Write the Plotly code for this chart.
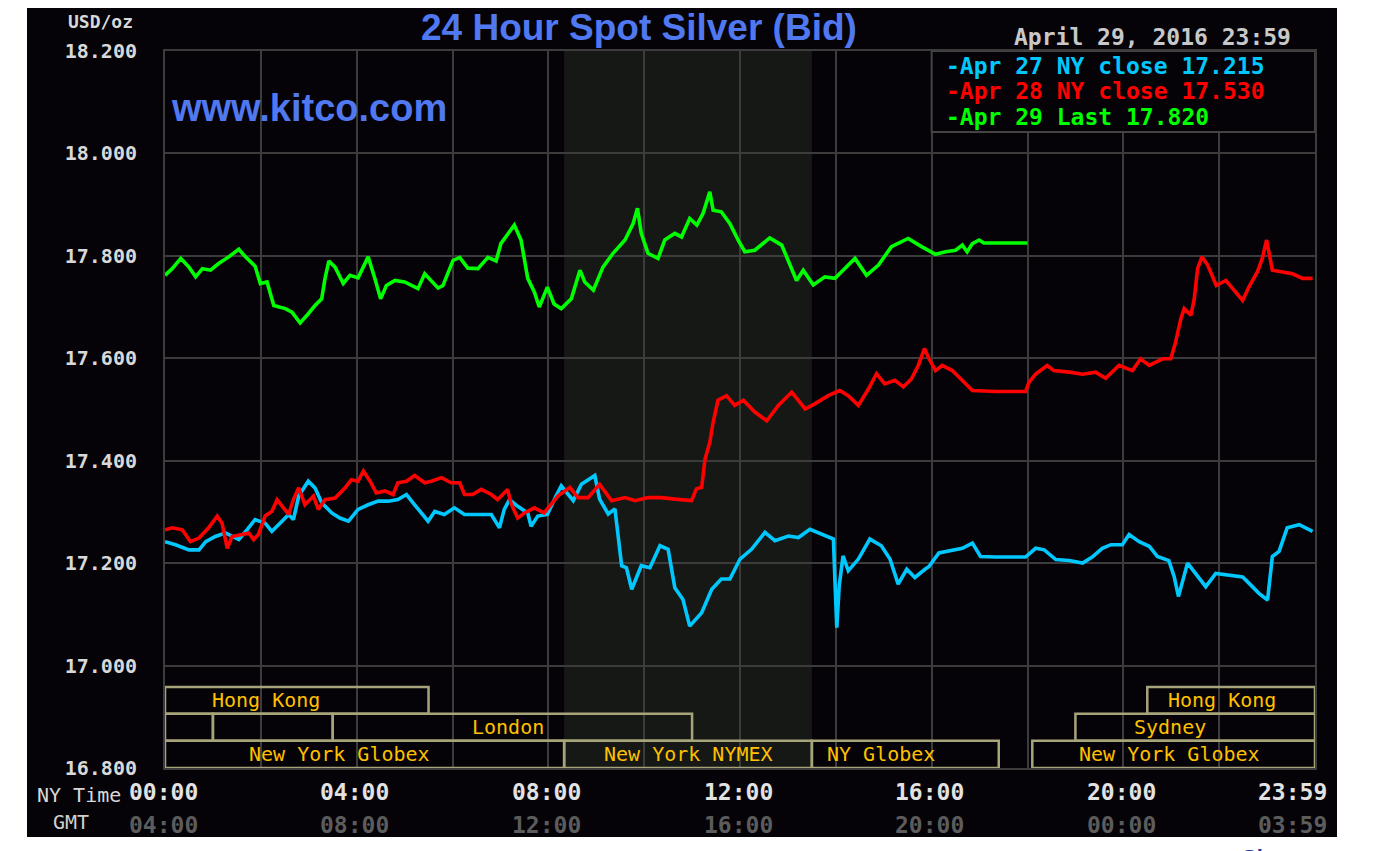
import plotly.graph_objects as go

# ---------------- data ----------------
apr27_hours = [0.00, 0.22, 0.50, 0.71, 0.85, 1.05, 1.26, 1.54, 1.71, 1.88, 2.09, 2.23, 2.40, 2.58, 2.68, 2.79,
               2.99, 3.13, 3.27, 3.48, 3.65, 3.83, 4.03, 4.24, 4.45, 4.66, 4.86, 5.04, 5.21, 5.35, 5.49, 5.63,
               5.83, 6.04, 6.25, 6.53, 6.81, 6.98, 7.08, 7.19, 7.36, 7.57, 7.64, 7.78, 7.98, 8.16, 8.27, 8.52,
               8.69, 8.97, 9.07, 9.25, 9.39, 9.53, 9.63, 9.74, 9.94, 10.12, 10.33, 10.50, 10.64, 10.81, 10.95,
               11.20, 11.41, 11.61, 11.79, 12.00, 12.24, 12.52, 12.73, 13.01, 13.22, 13.46, 13.70, 13.95, 13.98,
               14.02, 14.07, 14.15, 14.26, 14.47, 14.71, 14.95, 15.13, 15.30, 15.48, 15.65, 15.86, 15.94, 16.15,
               16.43, 16.64, 16.85, 17.02, 17.34, 17.96, 18.17, 18.35, 18.59, 18.87, 19.15, 19.35, 19.56, 19.74,
               19.98, 20.12, 20.33, 20.54, 20.71, 20.95, 21.06, 21.15, 21.34, 21.51, 21.72, 21.93, 22.21, 22.49,
               22.62, 22.83, 23.01, 23.11, 23.25, 23.42, 23.67, 23.95]
apr27_values = [17.242, 17.236, 17.226, 17.226, 17.242, 17.252, 17.259, 17.246, 17.265, 17.285, 17.278, 17.262,
                17.278, 17.295, 17.285, 17.331, 17.360, 17.347, 17.318, 17.298, 17.288, 17.282, 17.305, 17.314,
                17.321, 17.321, 17.324, 17.334, 17.314, 17.298, 17.282, 17.301, 17.295, 17.308, 17.295, 17.295,
                17.295, 17.269, 17.305, 17.324, 17.311, 17.298, 17.272, 17.292, 17.295, 17.331, 17.351, 17.322,
                17.354, 17.371, 17.325, 17.296, 17.306, 17.195, 17.191, 17.149, 17.195, 17.191, 17.234, 17.227,
                17.152, 17.129, 17.077, 17.103, 17.149, 17.169, 17.169, 17.208, 17.227, 17.260, 17.244, 17.253,
                17.250, 17.266, 17.257, 17.247, 17.169, 17.074, 17.155, 17.214, 17.185, 17.208, 17.247, 17.234,
                17.208, 17.159, 17.188, 17.172, 17.188, 17.193, 17.220, 17.226, 17.229, 17.239, 17.213, 17.212,
                17.212, 17.229, 17.226, 17.207, 17.205, 17.200, 17.212, 17.229, 17.236, 17.236, 17.256, 17.242,
                17.233, 17.213, 17.205, 17.174, 17.135, 17.200, 17.180, 17.154, 17.180, 17.177, 17.173, 17.161,
                17.141, 17.128, 17.213, 17.223, 17.269, 17.275, 17.262]

apr28_hours = [0.00, 0.15, 0.36, 0.53, 0.71, 0.91, 1.09, 1.19, 1.30, 1.40, 1.61, 1.75, 1.85, 1.95, 2.09, 2.23,
               2.34, 2.47, 2.58, 2.68, 2.79, 2.92, 3.10, 3.20, 3.34, 3.55, 3.76, 3.89, 4.03, 4.14, 4.28, 4.41,
               4.59, 4.76, 4.86, 5.04, 5.21, 5.42, 5.56, 5.77, 5.97, 6.15, 6.25, 6.42, 6.60, 6.81, 6.94, 7.15,
               7.22, 7.36, 7.50, 7.71, 7.91, 8.21, 8.45, 8.62, 8.83, 9.07, 9.32, 9.60, 9.81, 10.08, 10.36, 10.64,
               10.99, 11.09, 11.20, 11.27, 11.37, 11.44, 11.54, 11.72, 11.89, 12.07, 12.31, 12.56, 12.80, 13.08,
               13.36, 13.56, 13.84, 14.08, 14.26, 14.47, 14.68, 14.85, 15.02, 15.23, 15.41, 15.58, 15.72, 15.85,
               15.94, 16.08, 16.22, 16.43, 16.64, 16.85, 17.34, 17.96, 18.03, 18.17, 18.41, 18.55, 18.87, 19.15,
               19.42, 19.63, 19.91, 20.19, 20.36, 20.54, 20.82, 20.99, 21.09, 21.20, 21.27, 21.41, 21.48, 21.55,
               21.64, 21.76, 21.94, 22.14, 22.31, 22.49, 22.62, 22.80, 22.90, 22.99, 23.11, 23.32, 23.53, 23.74,
               23.95]
apr28_values = [17.265, 17.269, 17.265, 17.242, 17.249, 17.269, 17.292, 17.278, 17.229, 17.252, 17.256, 17.259,
                17.246, 17.256, 17.292, 17.301, 17.324, 17.308, 17.295, 17.324, 17.347, 17.314, 17.331, 17.305,
                17.324, 17.327, 17.347, 17.363, 17.360, 17.380, 17.360, 17.337, 17.341, 17.334, 17.357, 17.360,
                17.371, 17.357, 17.360, 17.367, 17.357, 17.357, 17.334, 17.334, 17.344, 17.334, 17.324, 17.344,
                17.317, 17.288, 17.298, 17.308, 17.298, 17.332, 17.348, 17.328, 17.328, 17.354, 17.322, 17.328,
                17.322, 17.328, 17.328, 17.325, 17.322, 17.345, 17.348, 17.403, 17.436, 17.475, 17.518, 17.527,
                17.508, 17.518, 17.495, 17.478, 17.508, 17.534, 17.501, 17.511, 17.527, 17.537, 17.527, 17.508,
                17.540, 17.570, 17.550, 17.557, 17.544, 17.560, 17.586, 17.619, 17.600, 17.576, 17.586, 17.576,
                17.556, 17.537, 17.535, 17.535, 17.553, 17.569, 17.586, 17.576, 17.573, 17.569, 17.573, 17.561,
                17.586, 17.576, 17.599, 17.586, 17.599, 17.599, 17.631, 17.677, 17.697, 17.684, 17.716, 17.775,
                17.798, 17.782, 17.742, 17.752, 17.733, 17.713, 17.739, 17.769, 17.795, 17.831, 17.772, 17.769,
                17.765, 17.756, 17.756]

apr29_hours = [0.00, 0.15, 0.33, 0.50, 0.64, 0.78, 0.95, 1.12, 1.33, 1.54, 1.68, 1.88, 1.99, 2.13, 2.27, 2.51,
               2.65, 2.82, 2.99, 3.13, 3.27, 3.34, 3.42, 3.55, 3.72, 3.86, 4.03, 4.24, 4.38, 4.50, 4.62, 4.80,
               5.00, 5.14, 5.28, 5.42, 5.56, 5.70, 5.80, 6.01, 6.15, 6.32, 6.53, 6.74, 6.91, 7.01, 7.29, 7.43,
               7.57, 7.71, 7.81, 7.98, 8.12, 8.27, 8.48, 8.66, 8.76, 8.94, 9.14, 9.35, 9.60, 9.77, 9.86, 9.94,
               10.08, 10.29, 10.43, 10.64, 10.78, 10.95, 11.10, 11.23, 11.37, 11.44, 11.61, 11.79, 11.96, 12.10,
               12.31, 12.45, 12.62, 12.87, 13.01, 13.18, 13.32, 13.53, 13.77, 13.98, 14.12, 14.40, 14.64, 14.89,
               15.16, 15.51, 15.79, 15.94, 16.08, 16.29, 16.50, 16.64, 16.74, 16.85, 16.99, 17.09, 18.00]
apr29_values = [17.762, 17.775, 17.795, 17.778, 17.759, 17.775, 17.772, 17.785, 17.798, 17.813, 17.798, 17.780,
                17.746, 17.749, 17.703, 17.697, 17.690, 17.669, 17.687, 17.703, 17.716, 17.756, 17.790, 17.778,
                17.746, 17.762, 17.757, 17.798, 17.756, 17.716, 17.742, 17.752, 17.749, 17.742, 17.736, 17.765,
                17.752, 17.737, 17.742, 17.791, 17.797, 17.776, 17.775, 17.797, 17.790, 17.824, 17.860, 17.831,
                17.756, 17.729, 17.700, 17.739, 17.706, 17.697, 17.716, 17.772, 17.749, 17.733, 17.778, 17.805,
                17.831, 17.863, 17.893, 17.844, 17.805, 17.795, 17.831, 17.844, 17.837, 17.873, 17.860, 17.883,
                17.925, 17.889, 17.886, 17.863, 17.831, 17.808, 17.811, 17.821, 17.835, 17.821, 17.788, 17.752,
                17.772, 17.743, 17.759, 17.756, 17.769, 17.795, 17.762, 17.782, 17.818, 17.834, 17.818, 17.811,
                17.803, 17.808, 17.811, 17.821, 17.808, 17.824, 17.831, 17.825, 17.825]

series_names = ["Apr 27 NY close 17.215", "Apr 28 NY close 17.530", "Apr 29 Last 17.820"]

ny_tick_hours = [0, 4, 8, 12, 16, 20, 24]
ny_tick_labels = ["00:00", "04:00", "08:00", "12:00", "16:00", "20:00", "23:59"]
gmt_tick_labels = ["04:00", "08:00", "12:00", "16:00", "20:00", "00:00", "03:59"]
price_ticks = [16.8, 17.0, 17.2, 17.4, 17.6, 17.8, 18.0, 18.2]

session_names = ["Hong Kong", "", "", "London", "New York Globex", "New York NYMEX", "NY Globex",
                 "New York Globex", "Sydney", "Hong Kong"]
session_start = [0.0, 0.0, 1.0, 3.5, 0.0, 8.33, 13.5, 18.1, 19.0, 20.5]
session_end = [5.5, 1.0, 3.5, 11.0, 8.33, 13.5, 17.4, 24.0, 24.0, 24.0]
session_row = [0, 1, 1, 1, 2, 2, 2, 2, 1, 0]
nymex_open, nymex_close = 8.33, 13.5

# ---------------- styling / layout ----------------
# the page body has an 8px margin, so the figure is shifted by OFF pixels
OFF = 8
W, H = 1377 - 2 * OFF, 851 - OFF
PL, PT, PR, PB = 165, 51, 1315, 768           # plot-area edges in screen pixels
L, T = PL - OFF, PT - OFF
R, B = W - (PR - OFF), H - (PB - OFF)
PW, PH = PR - PL, PB - PT
Y0, Y1 = 16.8, 18.2
MONO = "DejaVu Sans Mono"
SANS = "Liberation Sans"
colors = ["#00c8ff", "#ff0000", "#00ff00"]
label_hours = [2.11, None, None, 7.16, 3.65, 10.92, 14.95, 20.96, 20.98, 22.05]
row_edges = [(16.906, 16.958), (16.853, 16.906), (16.800, 16.853)]


def px_x(px):
    return (px - PL) / PW


def px_y(py):
    return (PB - py) / PH


fig = go.Figure()
for hrs, vals, name, col in zip([apr27_hours, apr28_hours, apr29_hours],
                                [apr27_values, apr28_values, apr29_values], series_names, colors):
    fig.add_trace(go.Scatter(x=hrs, y=vals, mode="lines", name=name,
                             line=dict(color=col, width=3.6), showlegend=False))

shapes = [
    dict(type="rect", xref="paper", yref="paper", x0=px_x(27), x1=px_x(1337), y0=px_y(837), y1=px_y(0),
         fillcolor="#050308", line_width=0, layer="below"),
    dict(type="rect", xref="x", yref="y", x0=nymex_open, x1=nymex_close, y0=Y0, y1=Y1,
         fillcolor="#161815", line_width=0, layer="below"),
    dict(type="rect", xref="x", yref="y", x0=16, x1=24, y0=18.042, y1=Y1,
         fillcolor="#050308", line=dict(color="#444444", width=2), layer="above"),
]
for s0, s1, row in zip(session_start, session_end, session_row):
    lo, hi = row_edges[row]
    shapes.append(dict(type="rect", xref="x", yref="y", x0=s0, x1=s1, y0=lo, y1=hi,
                       line=dict(color="#a8a47a", width=2.5), fillcolor="rgba(0,0,0,0)", layer="above"))

annotations = []
for name, lh, row in zip(session_names, label_hours, session_row):
    if not name:
        continue
    lo, hi = row_edges[row]
    annotations.append(dict(x=lh, y=(lo + hi) / 2, xref="x", yref="y", text=name, showarrow=False,
                            xanchor="center", yanchor="middle",
                            font=dict(family=MONO, size=20, color="#ffc000")))

for h, ny, gmt in zip(ny_tick_hours, ny_tick_labels, gmt_tick_labels):
    last = h == ny_tick_hours[-1]
    common = dict(x=h, xref="x", yref="paper", showarrow=False, yanchor="middle",
                  xanchor="right" if last else "center", xshift=14 if last else -2)
    annotations.append(dict(text="<b>%s</b>" % ny, y=px_y(792),
                            font=dict(family=MONO, size=23, color="#e2e2e2"), **common))
    annotations.append(dict(text="<b>%s</b>" % gmt, y=px_y(825),
                            font=dict(family=MONO, size=23, color="#5c5c5c"), **common))


def label(px, py, text, anchor, size, color, family=MONO):
    return dict(xref="paper", yref="paper", x=px_x(px), y=px_y(py), xanchor=anchor, yanchor="middle",
                text=text, showarrow=False, font=dict(family=family, size=size, color=color))


annotations += [
    label(123, 795, "NY Time", "right", 20, "#d8d8d8"),
    label(71, 822, "GMT", "center", 20, "#d0d0d0"),
    label(66, 21, "<b>USD/oz</b>", "left", 18, "#d8d8d8"),
    label(639, 28, "<b>24 Hour Spot Silver (Bid)</b>", "center", 37, "#5078f0", SANS),
    label(1293, 37, "<b>April 29, 2016 23:59</b>", "right", 23, "#c8c8c8"),
    label(169, 108, "<b>www.kitco.com</b>", "left", 38, "#5078f0", SANS),
    label(1240, 857, "<b>Sh</b>", "left", 22, "#1c3ca8", SANS),
]
for i, (name, col) in enumerate(zip(series_names, colors)):
    annotations.append(label(944, 66 + 25.5 * i, "<b>-%s</b>" % name, "left", 23, col))

fig.update_layout(
    width=W, height=H, margin=dict(l=L, r=R, t=T, b=B, pad=0),
    paper_bgcolor="#ffffff", plot_bgcolor="#050308",
    shapes=shapes, annotations=annotations,
    xaxis=dict(range=[0, 24], dtick=2, tick0=0, showgrid=True, gridcolor="#3c3c3c", gridwidth=2,
               showticklabels=False, zeroline=False, showline=True, linecolor="#3c3c3c", linewidth=2,
               mirror=True, fixedrange=True),
    yaxis=dict(range=[Y0, Y1], tickvals=price_ticks, ticktext=["<b>%.3f</b>" % v for v in price_ticks],
               showgrid=True, gridcolor="#3c3c3c", gridwidth=2, zeroline=False, showline=True,
               linecolor="#3c3c3c", linewidth=2, mirror=True, ticklabelstandoff=22,
               tickfont=dict(family=MONO, size=20, color="#d8d8d8"), fixedrange=True),
)

fig.write_html("out.html")
